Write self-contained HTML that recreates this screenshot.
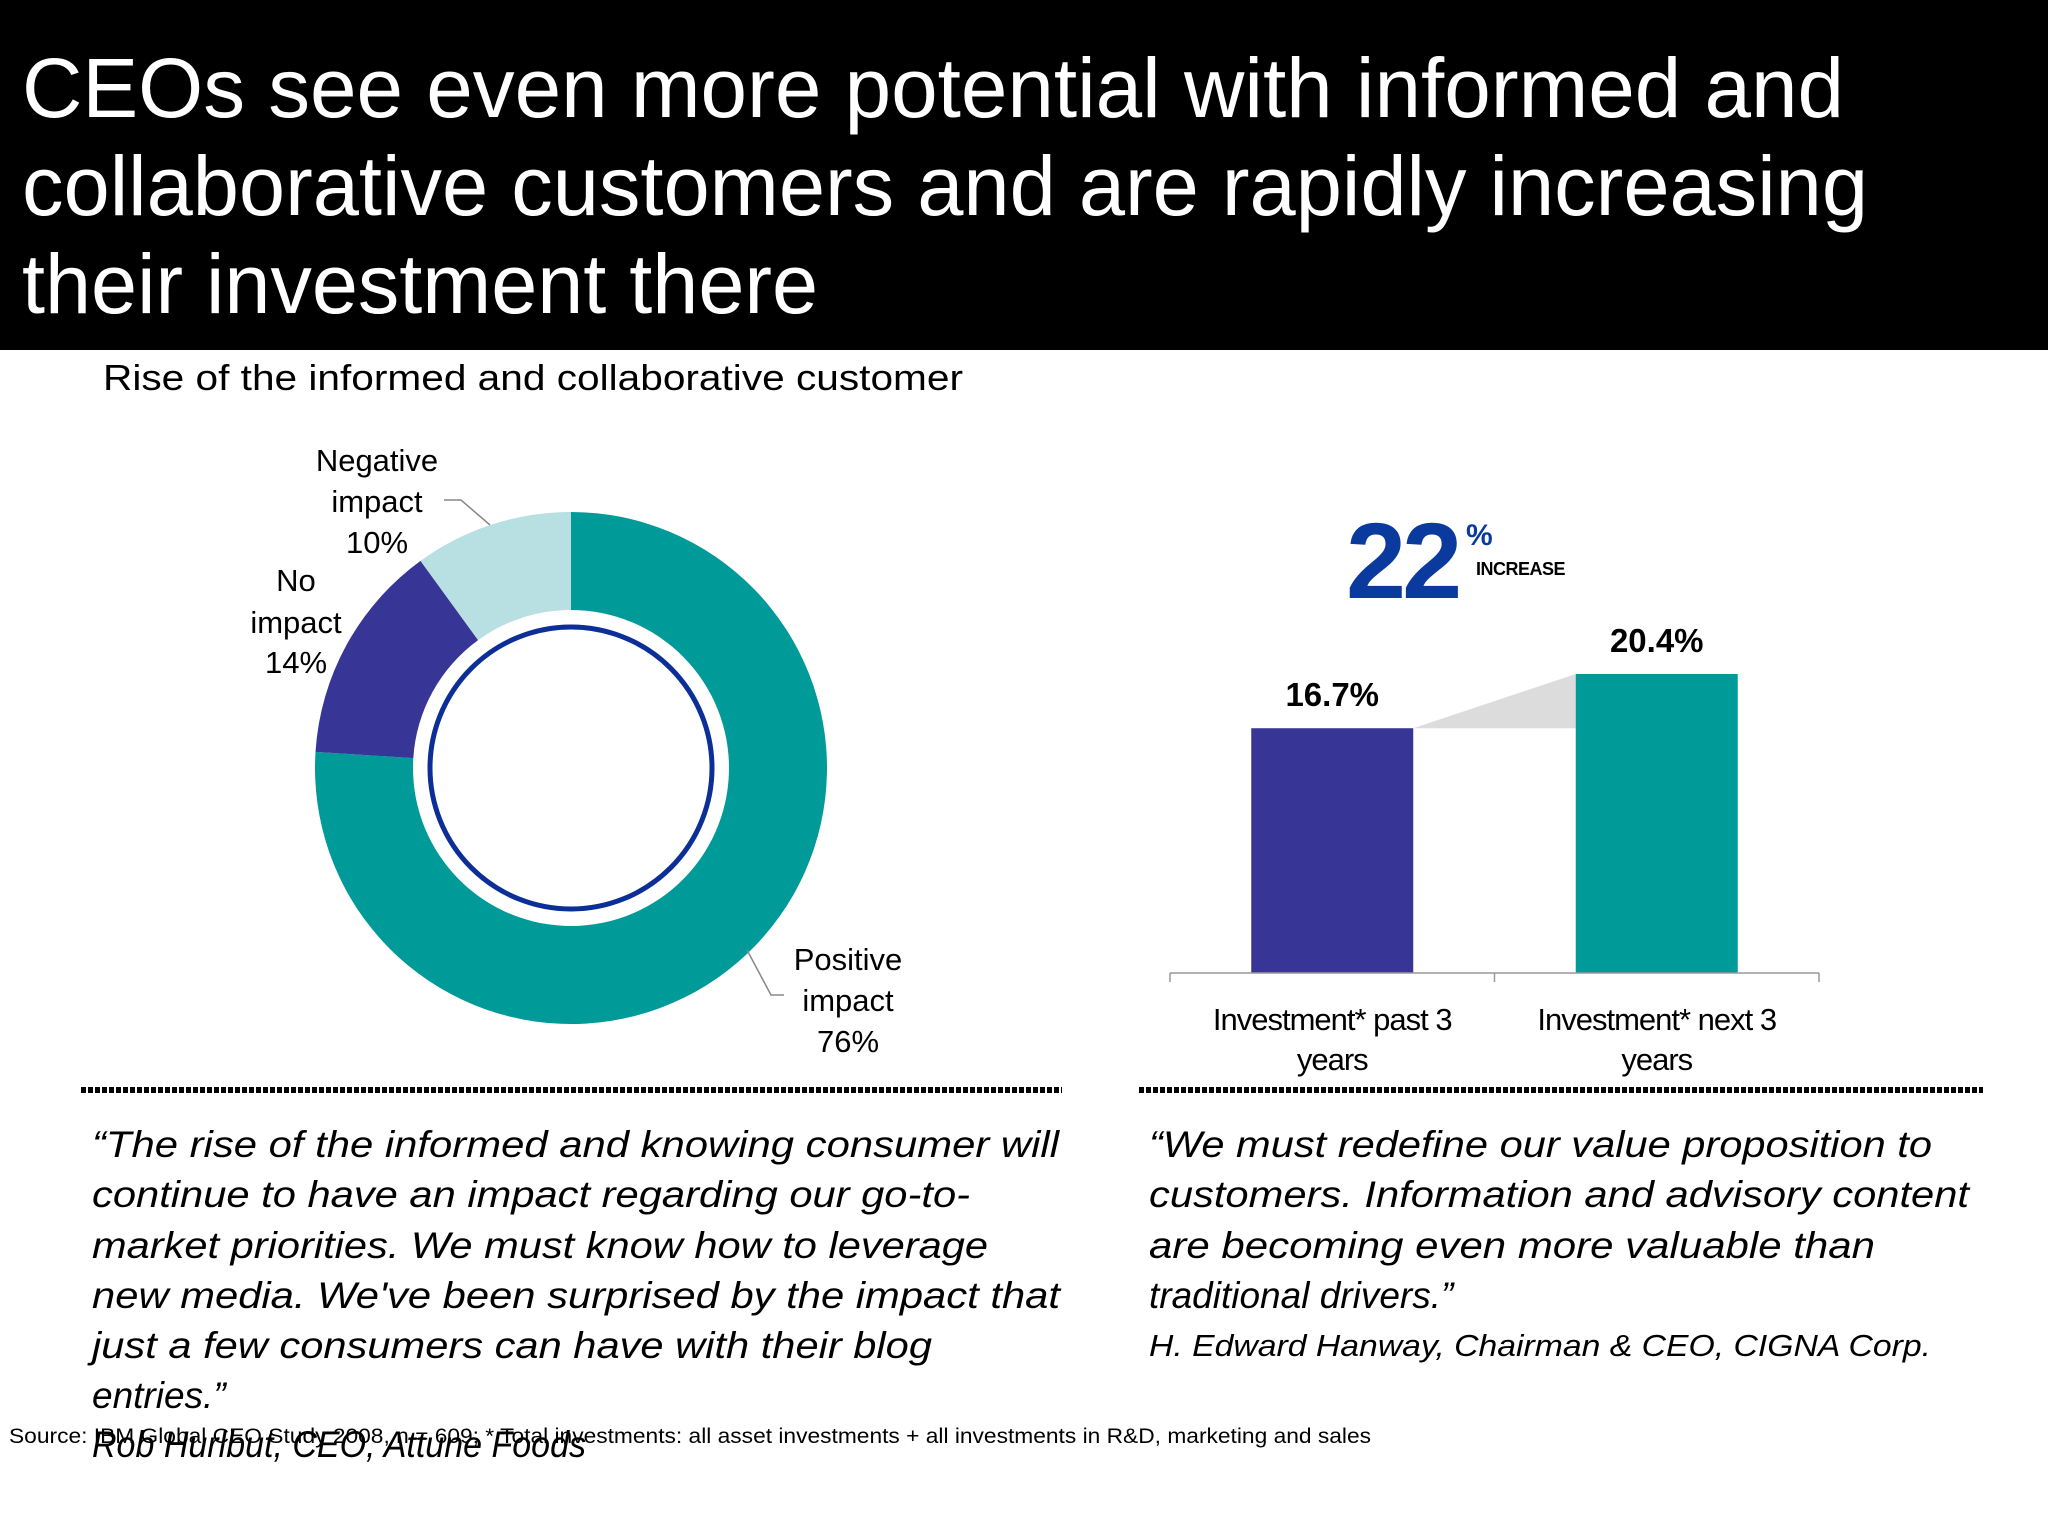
<!DOCTYPE html>
<html><head><meta charset="utf-8">
<style>
html,body{margin:0;padding:0;background:#fff;}
svg{display:block;font-family:"Liberation Sans",Arial,sans-serif;}
</style></head>
<body>
<svg id="root" width="2048" height="1536" viewBox="0 0 2048 1536">
  <rect x="0" y="0" width="2048" height="350" fill="#000"/>
  <g fill="#fff" font-size="84">
    <text x="22" y="117" textLength="1822" lengthAdjust="spacingAndGlyphs">CEOs see even more potential with informed and</text>
    <text x="22" y="215" textLength="1846" lengthAdjust="spacingAndGlyphs">collaborative customers and are rapidly increasing</text>
    <text x="22" y="313" textLength="796" lengthAdjust="spacingAndGlyphs">their investment there</text>
  </g>
  <text x="103" y="390" font-size="36" fill="#000" textLength="860" lengthAdjust="spacingAndGlyphs">Rise of the informed and collaborative customer</text>

  <g id="donut"></g>
  <circle cx="571" cy="768" r="141" fill="none" stroke="#0b2f96" stroke-width="5"/>

  <g font-size="31" fill="#000" text-anchor="middle">
    <text x="377" y="471">Negative</text><text x="377" y="512">impact</text><text x="377" y="553">10%</text>
    <text x="296" y="591">No</text><text x="296" y="633">impact</text><text x="296" y="673">14%</text>
    <text x="848" y="970">Positive</text><text x="848" y="1011">impact</text><text x="848" y="1052">76%</text>
  </g>
  <polyline points="444,500 461,500 490,525" fill="none" stroke="#888" stroke-width="1.5"/>
  <polyline points="747,950 771,995 784,995" fill="none" stroke="#888" stroke-width="1.5"/>

  <g id="bars"></g>

  <g>
    <text x="1346" y="598" font-size="108" font-weight="bold" fill="#0b3a9e" letter-spacing="-4">22</text>
    <text x="1466" y="545" font-size="30" font-weight="bold" fill="#0b3a9e">%</text>
    <text x="1476" y="575" font-size="18" font-weight="bold" fill="#000" letter-spacing="-0.5">INCREASE</text>
  </g>

  <line x1="81" y1="1090" x2="1062" y2="1090" stroke="#000" stroke-width="6" stroke-dasharray="5,2"/>
  <line x1="1139" y1="1090" x2="1983" y2="1090" stroke="#000" stroke-width="6" stroke-dasharray="5,2"/>

  <g font-size="37" font-style="italic" fill="#000">
    <text x="92" y="1157" textLength="967" lengthAdjust="spacingAndGlyphs">“The rise of the informed and knowing consumer will</text>
    <text x="92" y="1207" textLength="878" lengthAdjust="spacingAndGlyphs">continue to have an impact regarding our go-to-</text>
    <text x="92" y="1258" textLength="896" lengthAdjust="spacingAndGlyphs">market priorities. We must know how to leverage</text>
    <text x="92" y="1308" textLength="968" lengthAdjust="spacingAndGlyphs">new media. We've been surprised by the impact that</text>
    <text x="92" y="1358" textLength="840" lengthAdjust="spacingAndGlyphs">just a few consumers can have with their blog</text>
    <text x="92" y="1408">entries.”</text>
    <text x="92" y="1457" textLength="494" lengthAdjust="spacingAndGlyphs">Rob Hurlbut, CEO, Attune Foods</text>
  </g>
  <g font-size="37" font-style="italic" fill="#000">
    <text x="1149" y="1157" textLength="783" lengthAdjust="spacingAndGlyphs">“We must redefine our value proposition to</text>
    <text x="1149" y="1207" textLength="820" lengthAdjust="spacingAndGlyphs">customers. Information and advisory content</text>
    <text x="1149" y="1258" textLength="726" lengthAdjust="spacingAndGlyphs">are becoming even more valuable than</text>
    <text x="1149" y="1308">traditional drivers.”</text>
    <text x="1149" y="1356" font-size="31" textLength="782" lengthAdjust="spacingAndGlyphs">H. Edward Hanway, Chairman &amp; CEO, CIGNA Corp.</text>
  </g>
  <text x="9" y="1443" font-size="21" fill="#000" textLength="1362" lengthAdjust="spacingAndGlyphs">Source: IBM Global CEO Study 2008, n = 609; * Total investments: all asset investments + all investments in R&amp;D, marketing and sales</text>
</svg>
<script>
const sliceNames = ["Positive impact", "No impact", "Negative impact"];
const sliceValues = [76, 14, 10];
const sliceColors = ["#009a98", "#373596", "#b8dfe2"];
const barCategories = [["Investment* past 3", "years"], ["Investment* next 3", "years"]];
const barValues = [16.7, 20.4];
const barLabels = ["16.7%", "20.4%"];
const barColors = ["#373596", "#009a98"];

const NS = "http://www.w3.org/2000/svg";
function mk(tag, attrs){const e=document.createElementNS(NS,tag);for(const k in attrs)e.setAttribute(k,attrs[k]);return e;}

// Donut
(function(){
  const g=document.getElementById('donut');
  const cx=571, cy=768, R=256, r=158;
  const total=sliceValues.reduce((a,b)=>a+b,0);
  let a0=0;
  const pt=(ang,rad)=>[cx+rad*Math.sin(ang), cy-rad*Math.cos(ang)];
  sliceValues.forEach((v,i)=>{
    const a1=a0+v/total*2*Math.PI;
    const large=(a1-a0)>Math.PI?1:0;
    const [x0,y0]=pt(a0,R),[x1,y1]=pt(a1,R),[x2,y2]=pt(a1,r),[x3,y3]=pt(a0,r);
    const p=mk('path',{d:`M${x0},${y0} A${R},${R} 0 ${large} 1 ${x1},${y1} L${x2},${y2} A${r},${r} 0 ${large} 0 ${x3},${y3} Z`,fill:sliceColors[i]});
    
    
    g.appendChild(p);
    a0=a1;
  });
})();

// Bars
(function(){
  const g=document.getElementById('bars');
  const baseY=973, pxPerUnit=299/20.4;
  const y=v=>baseY-v*pxPerUnit;
  const bandX0=1170, bandW=324.5, barW=162;
  const xs=barValues.map((v,i)=>bandX0+bandW*i+(bandW-barW)/2);
  const conn=mk('polygon',{points:`${xs[0]+barW},${y(barValues[0])} ${xs[1]},${y(barValues[1])} ${xs[1]},${y(barValues[0])}`,fill:'#dcdcdc'});
  
  
  g.appendChild(conn);
  barValues.forEach((v,i)=>{
    const b=mk('rect',{x:xs[i],y:y(v),width:barW,height:baseY-y(v),fill:barColors[i]});
    
    
    g.appendChild(b);
    const t=mk('text',{x:xs[i]+barW/2,y:y(v)-22,'font-size':33,'font-weight':'bold','text-anchor':'middle',fill:'#000'});
    t.textContent=barLabels[i];
    
    
    g.appendChild(t);
    barCategories[i].forEach((line,j)=>{
      const c=mk('text',{x:bandX0+bandW*i+bandW/2,y:1030+j*40,'font-size':31,'text-anchor':'middle',fill:'#000','letter-spacing':'-1'});
      c.textContent=line;
      
      
      g.appendChild(c);
    });
  });
  const ax=mk('path',{d:`M${bandX0},${baseY} H${bandX0+bandW*2} M${bandX0},${baseY} v9 M${bandX0+bandW},${baseY} v9 M${bandX0+bandW*2},${baseY} v9`,stroke:'#999','stroke-width':1.5,fill:'none'});
  
  
  g.appendChild(ax);
})();
</script>
</body></html>
